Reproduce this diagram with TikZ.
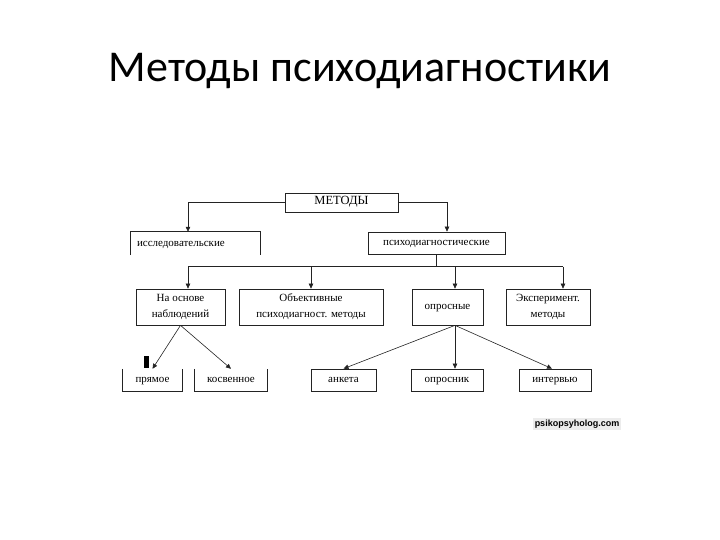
\documentclass[tikz,border=0pt]{standalone}
\usepackage{fontspec}
\setmainfont{Liberation Serif}
\newfontfamily\titlefont{Carlito}
\newfontfamily\markfont{Liberation Sans}
\usetikzlibrary{arrows.meta}
\definecolor{linegray}{RGB}{35,35,35}

\begin{document}
\begin{tikzpicture}[x=1pt, y=-1pt,
  % boxes are sized by hand, heights set per tier
  methbox/.style={rectangle, draw=linegray, line width=0.7pt, minimum width=#1,
                  minimum height=22pt, align=center, inner sep=0pt,
                  font=\fontsize{11}{16}\selectfont},
  openbox/.style={rectangle, minimum width=#1, minimum height=22pt,
                  align=center, inner sep=0pt, font=\fontsize{11}{16}\selectfont},
  oneline/.style={text height=7.5pt, text depth=2.5pt},
  boxline/.style={draw=linegray, line width=0.7pt},
  arr/.style={-{Triangle[length=5pt,width=4.5pt]}, draw=linegray, line width=0.6pt},
  titletext/.style={font=\titlefont\fontsize{44}{50}\selectfont, anchor=base},
  marktext/.style={font=\markfont\bfseries\fontsize{9}{10}\selectfont,
                   fill=gray!15, inner sep=2pt}
]
\useasboundingbox (0,0) rectangle (720,540);

% Title
\node[titletext] (title) at (360,82) {Методы психодиагностики};

% Top box
\node[methbox=113pt, minimum height=19pt, oneline, font=\fontsize{12.5}{15}\selectfont]
    (metody) at (341.5,202.5) {МЕТОДЫ};

% Tier 1
\node[openbox=129pt, oneline, minimum height=23pt, text width=117pt, align=left] (issl)
    at (195.5,243.5) {исследовательские};
\draw[boxline] (issl.south west) -- (issl.north west) -- (issl.north east) -- (issl.south east);
\node[methbox=137pt, oneline] (psy) at (436.5,243) {психодиагностические};

\draw[arr] (metody.west) -| ([xshift=-7.5pt]issl.north);
\draw[arr] (metody.east) -| ([xshift=10.5pt]psy.north);

% Tier 2
\node[methbox=89pt, minimum height=36pt] (nabl) at (180.5,307)
    {На основе\\наблюдений};
\node[methbox=144pt, minimum height=36pt] (obj) at (311,307)
    {Объективные\\психодиагност. методы};
\node[methbox=71pt, minimum height=36pt, oneline] (opr) at (447.5,307) {опросные};
\node[methbox=84pt, minimum height=36pt] (exper) at (548,307)
    {Эксперимент.\\методы};

\draw[boxline] (psy.south) -- ++(0,13);
\draw[boxline] ([xshift=7.5pt,yshift=22pt]nabl.north) -- ([xshift=15pt,yshift=22pt]exper.north);
\draw[arr] ([xshift=7.5pt,yshift=22pt]nabl.north) -- ([xshift=7.5pt]nabl.north);
\draw[arr] ([yshift=22pt]obj.north) -- (obj.north);
\draw[arr] ([xshift=7.5pt,yshift=22pt]opr.north) -- ([xshift=7.5pt]opr.north);
\draw[arr] ([xshift=15pt,yshift=22pt]exper.north) -- ([xshift=15pt]exper.north);

% Tier 3
\node[openbox=59pt, oneline] (pryam) at (152.5,380) {прямое};
\draw[boxline] (pryam.north west) -- (pryam.south west) -- (pryam.south east) -- (pryam.north east);
\node[openbox=72pt, oneline] (kosv) at (231,380) {косвенное};
\draw[boxline] (kosv.north west) -- (kosv.south west) -- (kosv.south east) -- (kosv.north east);
\node[methbox=65pt, oneline] (anketa) at (343.5,380) {анкета};
\node[methbox=72pt, oneline] (oprosnik) at (447,380) {опросник};
\node[methbox=72pt, oneline] (interv) at (555,380) {интервью};

\fill[black] (144,356) rectangle (149,368);

\draw[arr] (nabl.south) -- (pryam.north);
\draw[arr] (nabl.south) -- (kosv.north);
\draw[arr] ([xshift=7.5pt]opr.south) -- (anketa.north);
\draw[arr] ([xshift=7.5pt]opr.south) -- ([xshift=8pt]oprosnik.north);
\draw[arr] ([xshift=7.5pt]opr.south) -- ([xshift=-3pt]interv.north);

% Watermark
\node[marktext] (mark) at (577,424) {psikopsyholog.com};

\end{tikzpicture}
\end{document}
